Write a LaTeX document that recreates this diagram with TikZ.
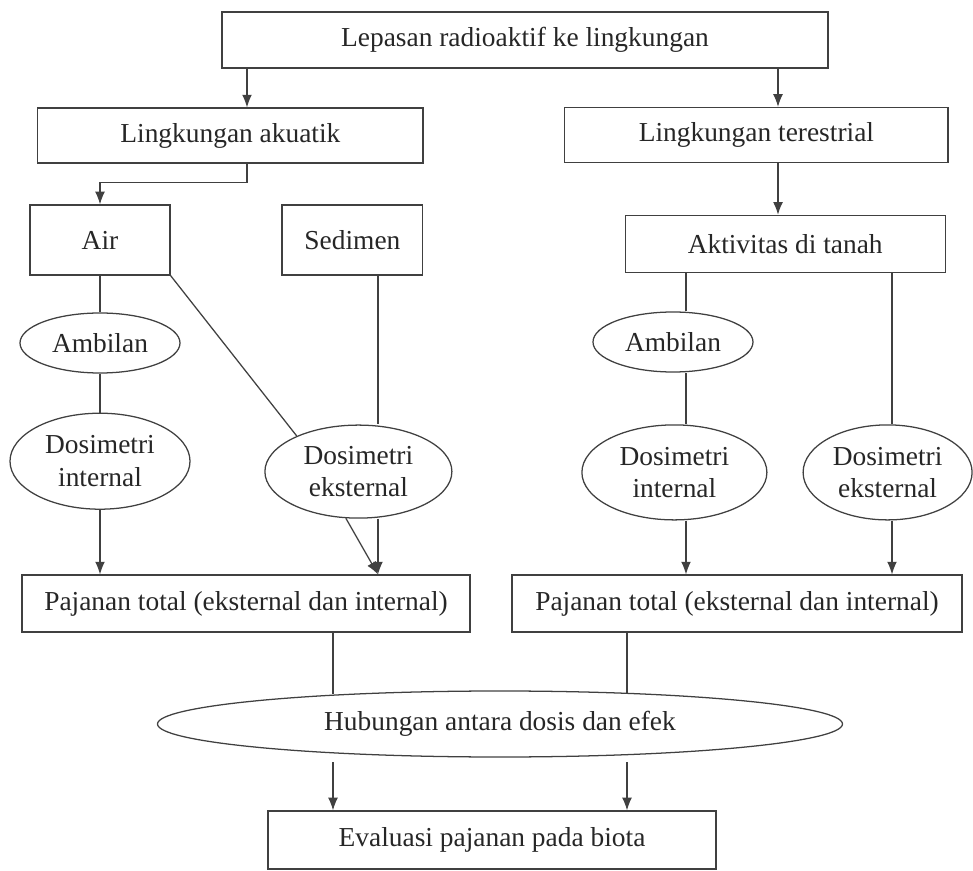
\documentclass[tikz,border=0pt]{standalone}
\usepackage{fontspec}
\setmainfont{Liberation Serif}
\usetikzlibrary{arrows.meta,shapes.geometric}
\begin{document}
\begin{tikzpicture}[
    every node/.style={font=\fontsize{19.5}{23}\selectfont,text=black!85},
    box/.style={draw,rectangle,inner sep=0pt},
    oval/.style={draw,ellipse,inner sep=0pt,align=center},
    arr/.style={-{Latex[length=9pt,width=7pt]}},
    line width=0.9pt,draw=black!75]
  \useasboundingbox (0,0) rectangle (24.325,-21.775);

  % columns of the connectors
  \coordinate (a) at (6.175,0);
  \coordinate (b) at (19.45,0);
  \coordinate (c) at (9.45,0);
  \coordinate (d) at (17.15,0);
  \coordinate (e) at (22.3,0);
  \coordinate (f) at (8.325,0);
  \coordinate (g) at (15.675,0);

  \node [box,minimum width=15.15cm,minimum height=1.4cm] (1) at (13.125,-1.0) {Lepasan radioaktif ke lingkungan};
  \node [box,minimum width=9.63cm,minimum height=1.375cm] (2) at (5.76,-3.39) {Lingkungan akuatik};
  \node [box,minimum width=9.58cm,minimum height=1.375cm] (3) at (18.91,-3.375) {Lingkungan terestrial};
  \node [box,minimum width=3.5cm,minimum height=1.75cm] (4) at (2.5,-6.0) {Air};
  \node [box,minimum width=3.52cm,minimum height=1.75cm] (5) at (8.81,-6.0) {Sedimen};
  \node [box,minimum width=8.0cm,minimum height=1.43cm] (6) at (19.63,-6.1) {Aktivitas di tanah};

  \node [oval,minimum width=4cm,minimum height=1.5cm] (7) at (2.5,-8.575) {Ambilan};
  \node [oval,minimum width=4.5cm,minimum height=2.4cm] (8) at (2.5,-11.53) {Dosimetri\\internal};
  \node [oval,minimum width=4.675cm,minimum height=2.325cm] (9) at (8.96,-11.79) {Dosimetri\\eksternal};
  \node [oval,minimum width=4cm,minimum height=1.5cm] (10) at (16.825,-8.55) {Ambilan};
  \node [oval,minimum width=4.625cm,minimum height=2.375cm] (11) at (16.86,-11.81) {Dosimetri\\internal};
  \node [oval,minimum width=4.225cm,minimum height=2.375cm] (12) at (22.19,-11.81) {Dosimetri\\eksternal};

  \node [box,minimum width=11.2cm,minimum height=1.425cm] (13) at (6.15,-15.09) {Pajanan total (eksternal dan internal)};
  \node [box,minimum width=11.25cm,minimum height=1.425cm] (14) at (18.425,-15.09) {Pajanan total (eksternal dan internal)};
  \node [oval,minimum width=17.125cm,minimum height=1.65cm] (15) at (12.5,-18.1) {Hubungan antara dosis dan efek};
  \node [box,minimum width=11.2cm,minimum height=1.45cm] (16) at (12.3,-21.0) {Evaluasi pajanan pada biota};

  \draw[arr] (1.south -| a) -- (2.north -| a);
  \draw[arr] (1.south -| b) -- (3.north -| b);
  \draw[arr] (3.south -| b) -- (6.north -| b);
  \draw[arr] (2.south -| a) -- ++(0,-0.475) -| (4.north);

  \draw (4) -- (7);
  \draw (7) -- (8);
  \draw[arr] (8.south) -- (8.south |- 13.north);
  \draw (4.south east) -- (9.150);
  \draw (5.south -| c) -- (9.north -| c);
  \draw[arr] (9.south -| c) -- (13.north -| c);
  \draw[arr] (9.255) -- (13.north -| c);

  \draw (6.south -| d) -- (10.north -| d);
  \draw (10.south -| d) -- (11.north -| d);
  \draw[arr] (11.south -| d) -- (14.north -| d);
  \draw (6.south -| e) -- (12.north -| e);
  \draw[arr] (12.south -| e) -- (14.north -| e);

  \draw (13.south -| f) -- ([yshift=-0.1cm]15.north -| f);
  \draw (14.south -| g) -- ([yshift=-0.06cm]15.north -| g);
  \draw[arr] ([yshift=-0.12cm]15.south -| f) -- (16.north -| f);
  \draw[arr] ([yshift=-0.12cm]15.south -| g) -- (16.north -| g);
\end{tikzpicture}
\end{document}
